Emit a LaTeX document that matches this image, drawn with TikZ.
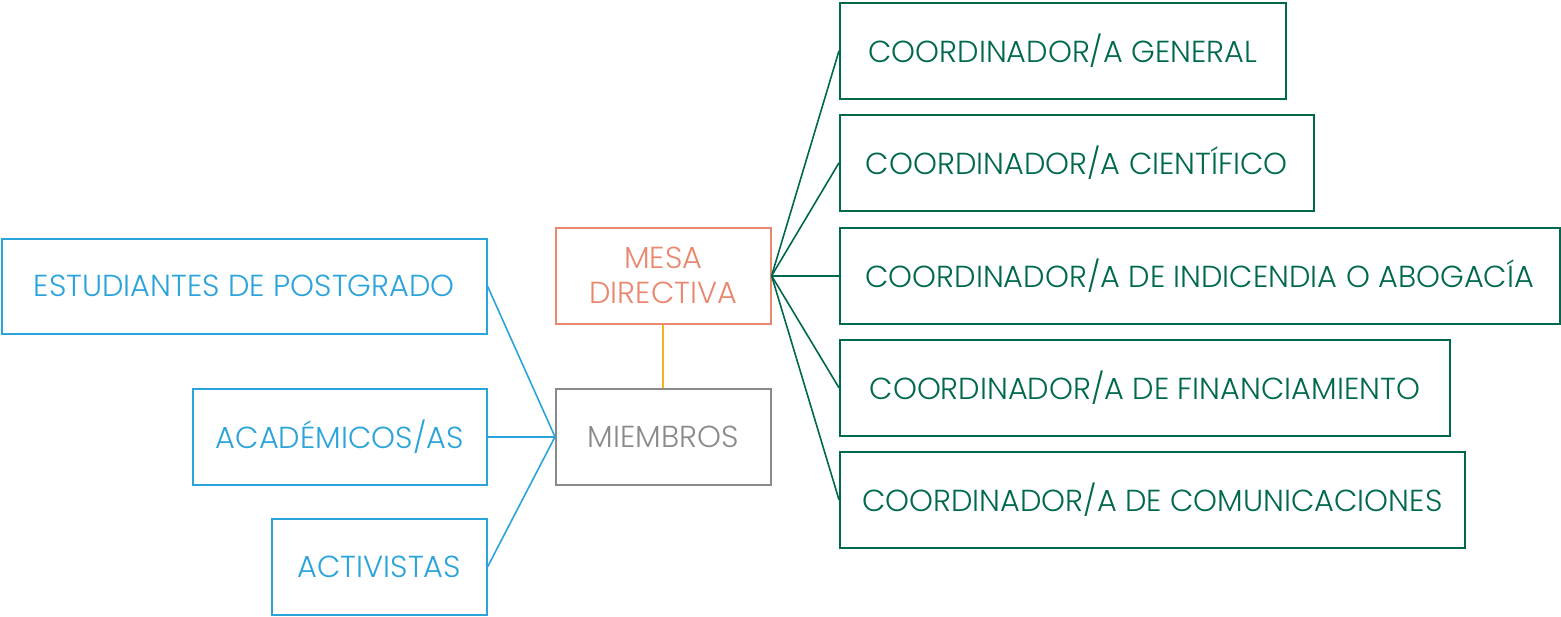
\documentclass[tikz,border=0pt]{standalone}
\usepackage{fontspec}
\setmainfont{Poppins Light}
\definecolor{cgreen}{HTML}{00684C}
\definecolor{cblue}{HTML}{2BA3DB}
\definecolor{csalmon}{HTML}{E9886F}
\definecolor{cgray}{HTML}{8A8A8A}
\definecolor{cyel}{RGB}{245,180,30}
\tikzset{
  bx/.style={draw, line width=1.6pt, inner sep=0pt, anchor=north west, font=\fontsize{30.4}{35}\selectfont, align=center},
  gbox/.style={bx, draw=cgreen, text=cgreen},
  bbox/.style={bx, draw=cblue, text=cblue},
  gl/.style={cgreen, line width=1.6pt},
  bl/.style={cblue, line width=1.6pt},
  yl/.style={draw=cyel, line width=2pt},
}
\begin{document}
\begin{tikzpicture}[x=1pt,y=-1pt]
\useasboundingbox (0,0) rectangle (1561,616);
% central
\node[bx, draw=csalmon, text=csalmon, minimum width=215pt, minimum height=96pt] (mesa) at (555,227) {MESA\\DIRECTIVA};
\node[bx, draw=cgray, text=cgray, minimum width=215pt, minimum height=96pt] (miem) at (555,388) {MIEMBROS};
% left
\node[bbox, minimum width=485pt, minimum height=95pt] (est) at (1,238) {ESTUDIANTES DE POSTGRADO};
\node[bbox, minimum width=294pt, minimum height=96pt] (aca) at (192,388) {ACADÉMICOS/AS};
\node[bbox, minimum width=215pt, minimum height=96pt] (act) at (271,518) {ACTIVISTAS};
% right
\node[gbox, minimum width=446pt, minimum height=96pt] (g1) at (839,2) {COORDINADOR/A GENERAL};
\node[gbox, minimum width=474pt, minimum height=96pt] (g2) at (839,114) {COORDINADOR/A CIENTÍFICO};
\node[gbox, minimum width=720pt, minimum height=96pt] (g3) at (839,227) {COORDINADOR/A DE INDICENDIA O ABOGACÍA};
\node[gbox, minimum width=610pt, minimum height=96pt] (g4) at (839,339) {COORDINADOR/A DE FINANCIAMIENTO};
\node[gbox, minimum width=625pt, minimum height=96pt] (g5) at (839,451) {COORDINADOR/A DE COMUNICACIONES};
% connectors
\path[yl] (mesa.south) -- (miem.north);
\foreach \n in {g1,g2,g3,g4,g5} \draw[gl] (mesa.east) -- (\n.west);
\foreach \n in {est,aca,act} \draw[bl] (miem.west) -- (\n.east);
\end{tikzpicture}
\end{document}
